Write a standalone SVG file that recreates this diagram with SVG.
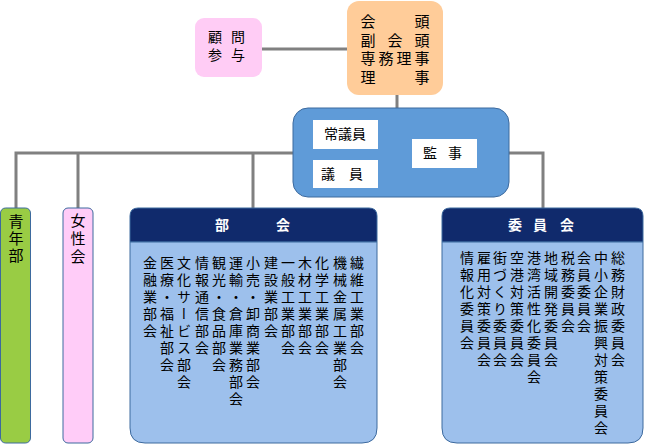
<svg xmlns="http://www.w3.org/2000/svg" width="645" height="444" viewBox="0 0 645 444">
<style>
.t{font-family:"Liberation Sans","Noto Sans CJK JP","Noto Sans CJK SC",sans-serif;font-size:14px;fill:#000;text-anchor:middle;dominant-baseline:central}
.v{font-family:"Noto Sans CJK JP","Noto Sans CJK SC",sans-serif;font-size:14px;fill:#000;writing-mode:vertical-rl;letter-spacing:3px}
.w{fill:#fff;font-weight:bold}
.conn{fill:none;stroke:#808080;stroke-width:3}
.wb{fill:#fff}
</style>
<g id="connectors">
<path class="conn" d="M262,49 H347"/>
<path class="conn" d="M397,95 V108"/>
<path class="conn" d="M293,153 H16 V208 M78,153 V208 M253,153 V208"/>
<path class="conn" d="M412,153 H346 V149 M346,153 V160"/>
<path class="conn" d="M509,153 H543 V208"/>
</g>
<g id="advisor">
<rect x="195" y="18" width="67" height="59" rx="9" fill="#FFCCF5"/>
<text class="t"><tspan x="215 238" y="37">顧問</tspan><tspan x="215 238" y="55">参与</tspan></text>
</g>
<g id="president">
<rect x="347" y="1" width="96" height="94" rx="12" fill="#FFCC99"/>
<text class="t" style="font-size:15px"><tspan x="368 422" y="21">会頭</tspan><tspan x="368 395 422" y="40">副会頭</tspan><tspan x="368 386 404 422" y="58">専務理事</tspan><tspan x="368 422" y="77">理事</tspan></text>
</g>
<g id="council">
<rect x="293" y="108" width="216" height="89" rx="15" fill="#5F9BD8" stroke="#3D6A9E" stroke-width="1"/>
</g>
<g id="standing">
<rect class="wb" x="313" y="120" width="65" height="29"/>
<text class="t" x="345" y="134">常議員</text>
</g>
<g id="members">
<rect class="wb" x="313" y="160" width="65" height="28"/>
<text class="t" x="328 356" y="174">議員</text>
</g>
<g id="auditor">
<rect class="wb" x="412" y="139" width="65" height="29"/>
<text class="t" x="430 455" y="153">監事</text>
</g>
<g id="youth">
<rect x="0.5" y="208" width="30" height="235" rx="5" fill="#99CC44" stroke="#3D6A9E"/>
<text class="v" x="16" y="214" style="font-size:15px;letter-spacing:2px">青年部</text>
</g>
<g id="women">
<rect x="63" y="208" width="30" height="235" rx="5" fill="#FFCCF8" stroke="#3D6A9E"/>
<text class="v" x="78" y="213" style="font-size:15px;letter-spacing:3px">女性会</text>
</g>
<g id="bukai">
<path d="M130,242 V216 Q130,208 138,208 H369 Q377,208 377,216 V242 Z" fill="#102A6C" stroke="#3D6A9E"/>
<path d="M130,242 H377 V428 Q377,443 362,443 H145 Q130,443 130,428 Z" fill="#9DC0EC" stroke="#3D6A9E"/>
<text class="t w" x="222 283" y="225">部会</text>
<text class="v" x="357" y="256">繊維工業部会</text>
<text class="v" x="340" y="256">機械金属工業部会</text>
<text class="v" x="322" y="256">化学工業部会</text>
<text class="v" x="305" y="256">木材工業部会</text>
<text class="v" x="288" y="256">一般工業部会</text>
<text class="v" x="271" y="256">建設業部会</text>
<text class="v" x="253" y="256">小売・卸商業部会</text>
<text class="v" x="236" y="256">運輸・倉庫業務部会</text>
<text class="v" x="219" y="256">観光・食品部会</text>
<text class="v" x="202" y="256">情報通信部会</text>
<text class="v" x="184" y="256">文化サービス部会</text>
<text class="v" x="167" y="256">医療・福祉部会</text>
<text class="v" x="150" y="256">金融業部会</text>
</g>
<g id="iinkai">
<path d="M442,242 V216 Q442,208 450,208 H635 Q643,208 643,216 V242 Z" fill="#102A6C" stroke="#3D6A9E"/>
<path d="M442,242 H643 V428 Q643,443 628,443 H457 Q442,443 442,428 Z" fill="#9DC0EC" stroke="#3D6A9E"/>
<text class="t w" x="515 540 567" y="225">委員会</text>
<text class="v" x="618" y="251">総務財政委員会</text>
<text class="v" x="601" y="251">中小企業振興対策委員会</text>
<text class="v" x="584" y="251">会員委員会</text>
<text class="v" x="568" y="251">税務委員会</text>
<text class="v" x="551" y="251">地域開発委員会</text>
<text class="v" x="534" y="251">港湾活性化委員会</text>
<text class="v" x="517" y="251">空港対策委員会</text>
<text class="v" x="500" y="251">街づくり委員会</text>
<text class="v" x="484" y="251">雇用対策委員会</text>
<text class="v" x="467" y="251">情報化委員会</text>
</g>
</svg>
